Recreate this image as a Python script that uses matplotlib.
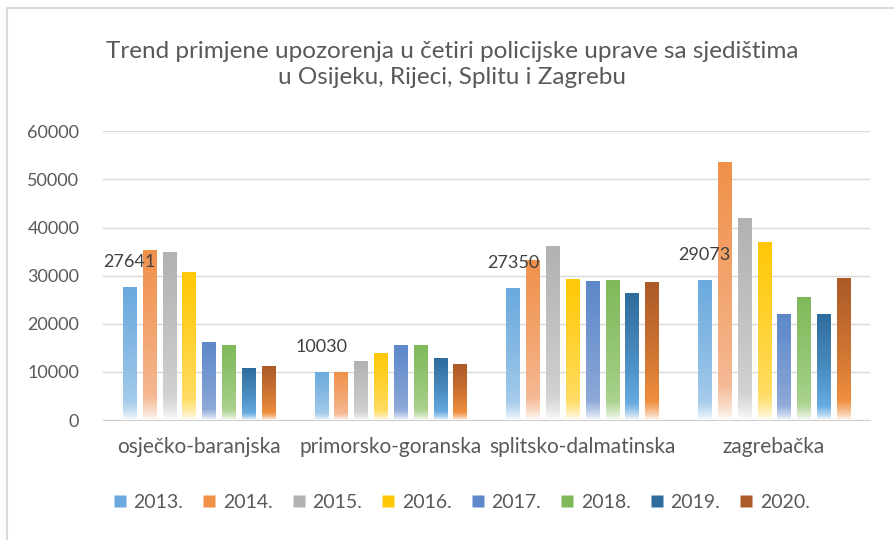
import numpy as np
import matplotlib.pyplot as plt
from matplotlib.colors import LinearSegmentedColormap
from matplotlib.lines import Line2D

plt.rcParams['font.family'] = ['Lato', 'DejaVu Sans']

categories = ['osječko-baranjska', 'primorsko-goranska', 'splitsko-dalmatinska', 'zagrebačka']
years = ['2013.', '2014.', '2015.', '2016.', '2017.', '2018.', '2019.', '2020.']
v2013 = [27641, 10030, 27350, 29073]
v2014 = [35300, 10030, 33200, 53700]
v2015 = [34850, 12250, 36100, 41900]
v2016 = [30700, 13900, 29250, 36950]
v2017 = [16200, 15550, 28850, 22000]
v2018 = [15550, 15550, 29050, 25500]
v2019 = [10800, 12850, 26350, 22000]
v2020 = [11200, 11600, 28650, 29450]
series = [v2013, v2014, v2015, v2016, v2017, v2018, v2019, v2020]

# gradient stops: top, middle, bottom
grads = [
    ['#6AAADE', '#A5CBEA', '#FFFFFF'],
    ['#F0914A', '#F5B995', '#FFFFFF'],
    ['#B2B2B2', '#D2D2D2', '#FFFFFF'],
    ['#FFC806', '#FFDD66', '#FFFFFF'],
    ['#5E88CA', '#8FAAD9', '#FFFFFF'],
    ['#7FB95A', '#AAD28E', '#FFFFFF'],
    ['#2E6C9E', '#66AADF', '#FFFFFF'],
    ['#AC5A28', '#EF8E3E', '#FFFFFF'],
]

fig = plt.figure(figsize=(8.95, 5.40), dpi=100)
ax = fig.add_axes([0.115, 0.222, 0.857, 0.535])

x = np.arange(len(categories))
step = 0.1034
width = 0.068
text_col = '#595959'

for i, vals in enumerate(series):
    offs = x + (i - 3.5) * step
    bars = ax.bar(offs, vals, width=width, color='none', edgecolor='none', zorder=3)
    cmap = LinearSegmentedColormap.from_list('g%d' % i, [(0, grads[i][2]), (0.25, grads[i][1]), (1, grads[i][0])])
    grad = np.linspace(0, 1, 256).reshape(-1, 1) ** 0.7
    for b in bars:
        x0 = b.get_x()
        h = b.get_height()
        im = ax.imshow(grad, extent=[x0, x0 + width, 0, h], origin='lower',
                       aspect='auto', cmap=cmap, vmin=0, vmax=1, zorder=3)
        im.set_clip_path(b)

# data labels only for 2013
for xi, v in zip(x, v2013):
    ax.text(xi - 3.5 * step, v + 5200, str(v), ha='center', va='center',
            fontsize=13, color='#404040', zorder=5)

ax.set_xlim(-0.5, 3.5)
ax.set_ylim(0, 60000)
ax.set_yticks(np.arange(0, 60001, 10000))
ax.set_xticks(x)
ax.set_xticklabels(categories)
ax.tick_params(axis='both', length=0, colors=text_col)
ax.tick_params(axis='x', pad=12, labelsize=15)
ax.tick_params(axis='y', pad=17, labelsize=13)
ax.grid(axis='y', color='#D9D9D9', linewidth=1, zorder=0)
for s in ['top', 'right', 'left']:
    ax.spines[s].set_visible(False)
ax.spines['bottom'].set_color('#D0D0D0')

fig.text(0.505, 0.881, 'Trend primjene upozorenja u četiri policijske uprave sa sjedištima\nu Osijeku, Rijeci, Splitu i Zagrebu',
         ha='center', va='center', fontsize=17.5, color=text_col, linespacing=1.3)

handles = []
for g in grads:
    handles.append(Line2D([], [], marker='s', linestyle='none', markersize=9,
                          markerfacecolor=g[0], markeredgecolor='none'))
fig.legend(handles, years, loc='center', bbox_to_anchor=(0.515, 0.07), ncol=8,
           frameon=False, fontsize=14, handlelength=0.8, handletextpad=0.3,
           columnspacing=0.94, labelcolor=text_col)

# chart border
fig.add_artist(Line2D([7 / 895, 7 / 895], [0, 1 - 8 / 540], color='#D9D9D9', lw=1.5))
fig.add_artist(Line2D([7 / 895, 1], [1 - 8 / 540, 1 - 8 / 540], color='#D9D9D9', lw=1.5))

fig.savefig('out.png', dpi=100)
